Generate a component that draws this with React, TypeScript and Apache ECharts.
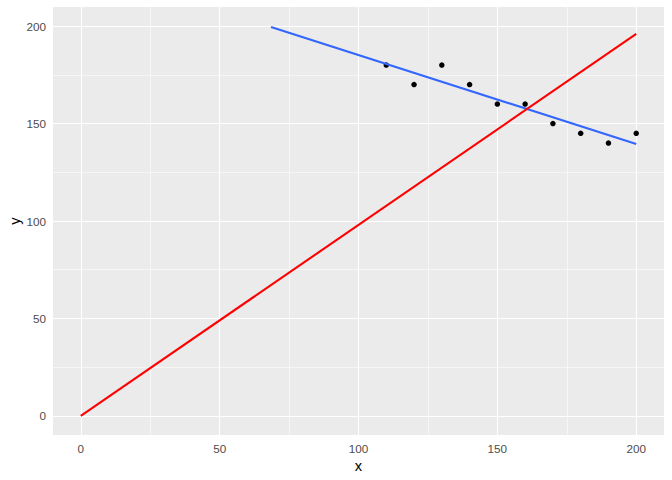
import React, { useEffect, useRef } from "react";
import * as echarts from "echarts";

const pointX = [110, 120, 130, 140, 150, 160, 170, 180, 190, 200];
const pointY = [180, 170, 180, 170, 160, 160, 150, 145, 140, 145];
const blueLineX = [68.5, 200];
const blueLineY = [199.6, 139.5];
const redLineX = [0, 200];
const redLineY = [0, 196];
const xBreaks = [0, 50, 100, 150, 200];
const xMinor = [25, 75, 125, 175];
const yBreaks = [0, 50, 100, 150, 200];
const yMinor = [25, 75, 125, 175];

export default function App() {
  const ref = useRef<HTMLDivElement>(null);
  useEffect(() => {
    if (!ref.current) return;
    const chart = echarts.init(ref.current, null, { renderer: "svg" });
    const font = "Liberation Sans, Arial, sans-serif";
    const gridLines = [
      ...xMinor.map((v) => ({ xAxis: v, lineStyle: { color: "#FFFFFF", width: 0.55, type: "solid" } })),
      ...yMinor.map((v) => ({ yAxis: v, lineStyle: { color: "#FFFFFF", width: 0.55, type: "solid" } })),
      ...xBreaks.map((v) => ({ xAxis: v, lineStyle: { color: "#FFFFFF", width: 1.1, type: "solid" } })),
      ...yBreaks.map((v) => ({ yAxis: v, lineStyle: { color: "#FFFFFF", width: 1.1, type: "solid" } })),
    ];
    const axisCommon = {
      type: "value",
      axisLine: { show: false },
      splitLine: { show: false },
      axisTick: { show: true, length: 4, lineStyle: { color: "#333333", width: 1 } },
    };
    chart.setOption({
      animation: false,
      grid: {
        left: 53,
        right: 8,
        top: 7,
        bottom: 45,
        show: true,
        backgroundColor: "#EBEBEB",
        borderWidth: 0,
        containLabel: false,
        outerBoundsMode: "none",
      },
      xAxis: {
        ...axisCommon,
        min: -10,
        max: 210,
        axisTick: { ...axisCommon.axisTick, customValues: xBreaks },
        axisLabel: {
          customValues: xBreaks,
          color: "#4D4D4D",
          fontSize: 11.7,
          fontFamily: font,
          margin: 7,
        },
        name: "x",
        nameLocation: "middle",
        nameGap: 23,
        nameMoveOverlap: false,
        nameTextStyle: { color: "#000000", fontSize: 14.7, fontFamily: font },
      },
      yAxis: {
        ...axisCommon,
        min: -9.8,
        max: 209.8,
        axisTick: { ...axisCommon.axisTick, customValues: yBreaks },
        axisLabel: {
          customValues: yBreaks,
          color: "#4D4D4D",
          fontSize: 11.7,
          fontFamily: font,
          margin: 7,
        },
        name: "y",
        nameLocation: "middle",
        nameGap: 31,
        nameMoveOverlap: false,
        nameTextStyle: { color: "#000000", fontSize: 14.7, fontFamily: font },
      },
      series: [
        {
          type: "line",
          data: [],
          z: 1,
          silent: true,
          markLine: {
            z: 1,
            silent: true,
            symbol: ["none", "none"],
            label: { show: false },
            animation: false,
            data: gridLines,
          },
        },
        {
          type: "scatter",
          z: 10,
          data: pointX.map((x, i) => [x, pointY[i]]),
          symbol: "circle",
          symbolSize: 5.5,
          itemStyle: { color: "#000000", opacity: 1 },
        },
        {
          type: "line",
          z: 11,
          data: blueLineX.map((x, i) => [x, blueLineY[i]]),
          showSymbol: false,
          lineStyle: { color: "#3366FF", width: 2.1 },
        },
        {
          type: "line",
          z: 12,
          data: redLineX.map((x, i) => [x, redLineY[i]]),
          showSymbol: false,
          lineStyle: { color: "#FF0000", width: 2.1 },
        },
      ],
    });
    return () => chart.dispose();
  }, []);
  return (
    <div
      ref={ref}
      style={{ position: "fixed", left: 0, top: 0, width: 672, height: 480, background: "#FFFFFF" }}
    />
  );
}
